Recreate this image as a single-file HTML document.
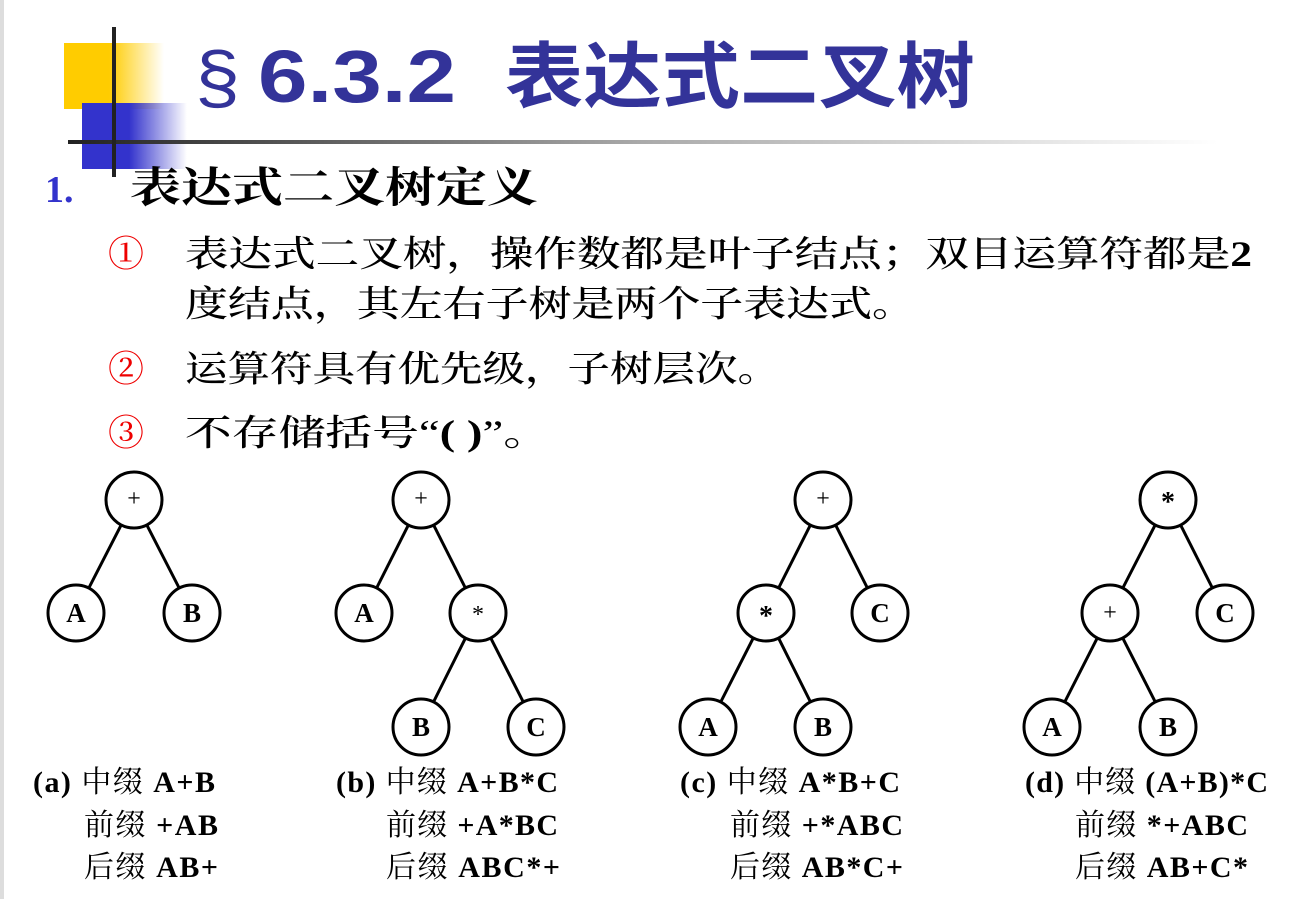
<!DOCTYPE html>
<html><head><meta charset="utf-8"><style>
html,body{margin:0;padding:0;background:#fff;}
svg{display:block}
.cjk{font-family:"Liberation Serif","Noto Serif CJK SC",serif}
.lab{font-family:"Liberation Serif","Noto Serif CJK SC",serif;font-size:30px;font-weight:bold}
</style></head><body>
<svg width="1295" height="899" viewBox="0 0 1295 899" xmlns="http://www.w3.org/2000/svg">
<defs>
<linearGradient id="gy" x1="0" x2="1"><stop offset="0.45" stop-color="#ffcc00"/><stop offset="1" stop-color="#ffcc00" stop-opacity="0"/></linearGradient>
<linearGradient id="gb" x1="0" x2="1"><stop offset="0.45" stop-color="#3333cc"/><stop offset="1" stop-color="#3333cc" stop-opacity="0"/></linearGradient>
<linearGradient id="gl" x1="0" x2="1"><stop offset="0" stop-color="#222"/><stop offset="0.5" stop-color="#aaa"/><stop offset="1" stop-color="#fff"/></linearGradient>
</defs>
<rect x="0" y="0" width="4" height="899" fill="#ddd"/>
<rect x="64" y="43" width="100" height="66" fill="url(#gy)"/>
<rect x="82" y="103" width="105" height="66" fill="url(#gb)"/>
<rect x="68" y="140" width="1150" height="4" fill="url(#gl)"/>
<rect x="112" y="27" width="4" height="150" fill="#222"/>
<text x="195" y="102" font-family="Liberation Sans,DejaVu Sans,sans-serif" font-size="72" fill="#333399" textLength="45" lengthAdjust="spacingAndGlyphs">§</text>
<text x="258" y="102" font-family="Liberation Sans,sans-serif" font-size="74" font-weight="bold" fill="#333399" textLength="198" lengthAdjust="spacingAndGlyphs">6.3.2</text>
<text x="505" y="102" font-family="'Noto Sans CJK SC',sans-serif" font-size="72" font-weight="bold" fill="#333399" textLength="470" lengthAdjust="spacingAndGlyphs">表达式二叉树</text>
<text x="45" y="202" font-family="Liberation Serif,serif" font-size="38" font-weight="bold" fill="#3333cc">1.</text>
<text x="130" y="202" class="cjk" font-size="42" font-weight="bold" textLength="408" lengthAdjust="spacingAndGlyphs">表达式二叉树定义</text>
<g class="cjk" font-size="36" font-weight="500">
<text x="108" y="266" fill="#e00">①</text>
<text x="185" y="266" textLength="1067" lengthAdjust="spacingAndGlyphs">表达式二叉树，操作数都是叶子结点；双目运算符都是<tspan font-weight="bold">2</tspan></text>
<text x="185" y="316" textLength="730" lengthAdjust="spacingAndGlyphs">度结点，其左右子树是两个子表达式。</text>
<text x="108" y="381" fill="#e00">②</text>
<text x="185" y="381" textLength="595" lengthAdjust="spacingAndGlyphs">运算符具有优先级，子树层次。</text>
<text x="108" y="445" fill="#e00">③</text>
<text x="185" y="445" textLength="365" lengthAdjust="spacingAndGlyphs">不存储括号“<tspan font-weight="bold">( )</tspan>”。</text>
</g>
<g stroke="#000" stroke-width="3" fill="none">
<line x1="134" y1="500" x2="76" y2="613"/><line x1="134" y1="500" x2="192" y2="613"/>
<line x1="421" y1="500" x2="364" y2="613"/><line x1="421" y1="500" x2="478" y2="613"/>
<line x1="478" y1="613" x2="421" y2="727"/><line x1="478" y1="613" x2="536" y2="727"/>
<line x1="823" y1="500" x2="766" y2="613"/><line x1="823" y1="500" x2="880" y2="613"/>
<line x1="766" y1="613" x2="708" y2="727"/><line x1="766" y1="613" x2="823" y2="727"/>
<line x1="1168" y1="500" x2="1110" y2="613"/><line x1="1168" y1="500" x2="1225" y2="613"/>
<line x1="1110" y1="613" x2="1052" y2="727"/><line x1="1110" y1="613" x2="1168" y2="727"/>
</g>
<g stroke="#000" stroke-width="3" fill="#fff">
<circle cx="134" cy="500" r="28"/><circle cx="76" cy="613" r="28"/><circle cx="192" cy="613" r="28"/>
<circle cx="421" cy="500" r="28"/><circle cx="364" cy="613" r="28"/><circle cx="478" cy="613" r="28"/><circle cx="421" cy="727" r="28"/><circle cx="536" cy="727" r="28"/>
<circle cx="823" cy="500" r="28"/><circle cx="766" cy="613" r="28"/><circle cx="880" cy="613" r="28"/><circle cx="708" cy="727" r="28"/><circle cx="823" cy="727" r="28"/>
<circle cx="1168" cy="500" r="28"/><circle cx="1110" cy="613" r="28"/><circle cx="1225" cy="613" r="28"/><circle cx="1052" cy="727" r="28"/><circle cx="1168" cy="727" r="28"/>
</g>
<g font-family="Liberation Serif,serif" font-size="27" font-weight="bold" text-anchor="middle">
<text x="134" y="506" font-weight="normal" font-size="24">+</text><text x="76" y="622">A</text><text x="192" y="622">B</text>
<text x="421" y="506" font-weight="normal" font-size="24">+</text><text x="364" y="622">A</text><text x="478" y="622" font-weight="normal" font-size="24">*</text><text x="421" y="736">B</text><text x="536" y="736">C</text>
<text x="823" y="506" font-weight="normal" font-size="24">+</text><text x="766" y="625" font-size="28">*</text><text x="880" y="622">C</text><text x="708" y="736">A</text><text x="823" y="736">B</text>
<text x="1168" y="511" font-size="28">*</text><text x="1110" y="620" font-weight="normal" font-size="24">+</text><text x="1225" y="622">C</text><text x="1052" y="736">A</text><text x="1168" y="736">B</text>
</g>
<g class="lab" lengthAdjust="spacingAndGlyphs">
<text x="33" y="792" textLength="182">(a) <tspan font-weight="normal">中缀</tspan> A+B</text>
<text x="84" y="835" textLength="134"><tspan font-weight="normal">前缀</tspan> +AB</text>
<text x="84" y="877" textLength="134"><tspan font-weight="normal">后缀</tspan> AB+</text>
<text x="336" y="792" textLength="222">(b) <tspan font-weight="normal">中缀</tspan> A+B*C</text>
<text x="386" y="835" textLength="172"><tspan font-weight="normal">前缀</tspan> +A*BC</text>
<text x="386" y="877" textLength="174"><tspan font-weight="normal">后缀</tspan> ABC*+</text>
<text x="680" y="792" textLength="220">(c) <tspan font-weight="normal">中缀</tspan> A*B+C</text>
<text x="730" y="835" textLength="173"><tspan font-weight="normal">前缀</tspan> +*ABC</text>
<text x="730" y="877" textLength="173"><tspan font-weight="normal">后缀</tspan> AB*C+</text>
<text x="1025" y="792" textLength="243">(d) <tspan font-weight="normal">中缀</tspan> (A+B)*C</text>
<text x="1075" y="835" textLength="173"><tspan font-weight="normal">前缀</tspan> *+ABC</text>
<text x="1075" y="877" textLength="173"><tspan font-weight="normal">后缀</tspan> AB+C*</text>
</g>
</svg>
</body></html>
